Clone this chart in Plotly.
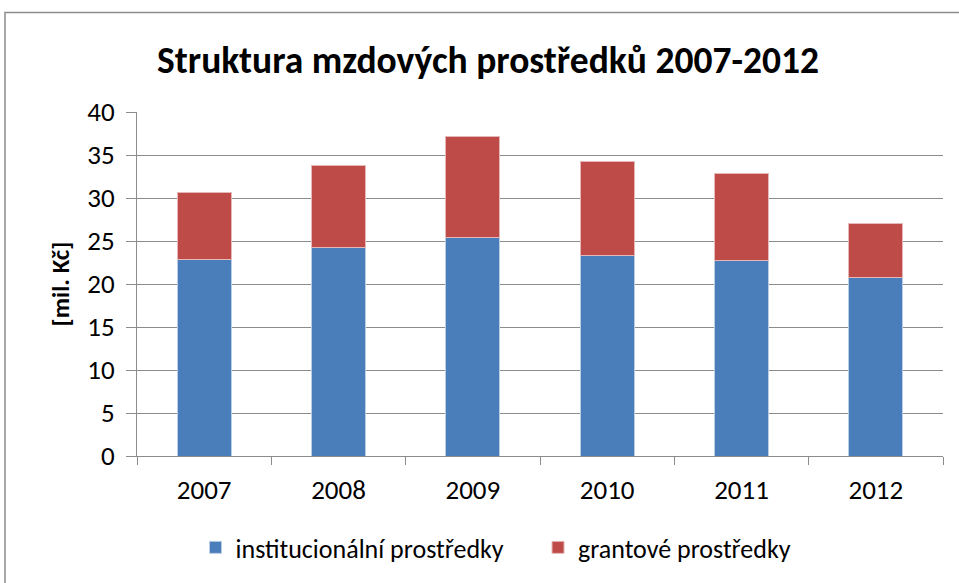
import plotly.graph_objects as go

# ── data ─────────────────────────────────────────────────────────────────────
years = ["2007", "2008", "2009", "2010", "2011", "2012"]
institucionalni = [22.9, 24.2, 25.4, 23.3, 22.7, 20.8]
grantove = [7.7, 9.6, 11.7, 11.0, 10.1, 6.2]

BLUE = "#4A7EBB"
RED = "#BE4B48"
GRID = "#8C8C8C"
FONT = "Carlito, Lato, Noto Sans, sans-serif"

fig = go.Figure()
fig.add_trace(go.Bar(
    x=years, y=institucionalni,
    name="institucionální prostředky&nbsp;&nbsp;&nbsp;&nbsp;&nbsp;",
    marker=dict(color=BLUE, line=dict(color="#B9CDE5", width=1)),
))
fig.add_trace(go.Bar(
    x=years, y=grantove, name="grantové prostředky",
    marker=dict(color=RED, line=dict(color="#E6B9B8", width=1)),
))

# plot area in px: left 137, right 943, top 112, bottom 458
L, R, T, B = 137, 16, 112, 125
W, H = 959, 583
pw, ph = W - L - R, H - T - B


def px(x):
    return (x - L) / pw


def py(y):
    return (H - B - y) / ph


fig.update_layout(
    width=W, height=H,
    margin=dict(l=L, r=R, t=T, b=B),
    barmode="stack",
    bargap=0.6,
    plot_bgcolor="white",
    paper_bgcolor="white",
    font=dict(family=FONT, size=26, color="#000000"),
    title=dict(
        text="<b>Struktura mzdových prostředků 2007-2012</b>",
        x=488 / W, xanchor="center", y=1 - 60 / H, yanchor="middle",
        font=dict(size=37.5, family=FONT),
    ),
    legend=dict(
        orientation="h", x=px(496), xanchor="center", y=py(550), yanchor="middle",
        font=dict(size=26), traceorder="normal",
        itemwidth=30,
    ),
    xaxis=dict(
        showgrid=False, showline=True, linecolor=GRID, linewidth=1,
        ticks="outside", tickson="boundaries", ticklen=8, tickcolor=GRID,
        tickfont=dict(size=27), ticklabelstandoff=10, fixedrange=True,
    ),
    yaxis=dict(
        range=[0, 40], dtick=5, showgrid=True, gridcolor=GRID, gridwidth=1,
        showline=True, linecolor=GRID, linewidth=1,
        ticks="outside", ticklen=10, tickcolor=GRID,
        tickfont=dict(size=27), ticklabelstandoff=6, zeroline=False,
        title=dict(text="<b>[mil. Kč]</b>", font=dict(size=25), standoff=10),
    ),
    shapes=[dict(
        type="rect", xref="paper", yref="paper",
        x0=px(5), x1=px(962), y0=py(590), y1=py(12),
        line=dict(color="#8C8C8C", width=1.5), layer="below",
    )],
)

# drop the page's default 8px body margin so the figure sits at (0, 0)
fig.write_html("out.html", config={"displayModeBar": False},
               post_script="document.body.style.margin='0px';")
